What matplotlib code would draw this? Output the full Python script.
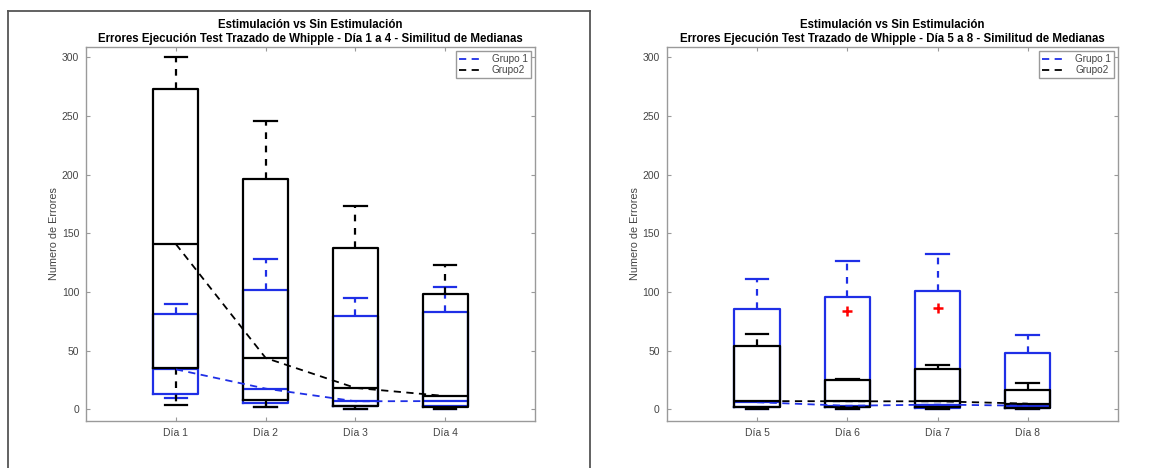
import matplotlib.pyplot as plt
from matplotlib.lines import Line2D

plt.rcParams['font.family'] = ['Liberation Sans', 'DejaVu Sans']

# Dia 1-4
days_left = ['Día 1', 'Día 2', 'Día 3', 'Día 4']
g1_left_q1 = [12.8, 5.4, 2.5, 2.5]
g1_left_med = [34, 17.6, 6.8, 7]
g1_left_q3 = [81, 101.4, 79.3, 82.7]
g1_left_lo = [10, 2, 0.5, 0.5]
g1_left_hi = [90, 128, 95, 104]

g2_left_q1 = [35, 7.7, 2.8, 2.3]
g2_left_med = [140.7, 43.7, 18.2, 11.3]
g2_left_q3 = [272.5, 196.6, 137.8, 97.8]
g2_left_lo = [4, 2, 0, 0.5]
g2_left_hi = [300, 245.5, 173, 122.8]
g2_left_out = [[], [], [], []]

# Dia 5-8
days_right = ['Día 5', 'Día 6', 'Día 7', 'Día 8']
g1_right_q1 = [2, 2, 1.5, 1.5]
g1_right_med = [6, 3, 4, 3]
g1_right_q3 = [85.8, 95.7, 100.8, 48.3]
g1_right_lo = [0.5, 0, 0.5, 0.5]
g1_right_hi = [110.8, 126, 132.7, 63]

g2_right_q1 = [2, 2, 2, 1.5]
g2_right_med = [7, 6.8, 6.8, 4.8]
g2_right_q3 = [53.7, 24.7, 34.7, 16.2]
g2_right_lo = [0.5, 0.5, 0.5, 0.5]
g2_right_hi = [64.5, 26, 38, 22.8]
g2_right_out = [[], [84], [86], []]

BLUE = '#1f2fe6'
AXGRAY = '#9a9a9a'
TXT = '#454545'


def stats(q1, med, q3, lo, hi, out=None):
    res = []
    for i in range(len(q1)):
        res.append({'q1': q1[i], 'med': med[i], 'q3': q3[i],
                    'whislo': lo[i], 'whishi': hi[i],
                    'fliers': out[i] if out else []})
    return res


def draw_group(ax, st, color, z):
    pos = list(range(1, len(st) + 1))
    ax.bxp(st, positions=pos, widths=0.5, showfliers=True,
           boxprops=dict(color=color, linewidth=1.6),
           whiskerprops=dict(color=color, linewidth=1.6, linestyle=(0, (3, 3))),
           capprops=dict(color=color, linewidth=1.6),
           medianprops=dict(color=color, linewidth=1.6),
           flierprops=dict(marker='+', markeredgecolor='red', markersize=7,
                           markeredgewidth=1.8, linestyle='none'),
           zorder=z, manage_ticks=False)


def panel(ax, days, g1, g2, title):
    pos = list(range(1, len(days) + 1))
    draw_group(ax, g1, BLUE, 2)
    draw_group(ax, g2, 'black', 3)
    ax.plot(pos, [s['med'] for s in g1], linestyle=(0, (4, 3)), color=BLUE,
            linewidth=1.3, zorder=4, label='Grupo 1')
    ax.plot(pos, [s['med'] for s in g2], linestyle=(0, (4, 3)), color='black',
            linewidth=1.3, zorder=4, label='Grupo2')
    ax.set_xlim(0, 5)
    ax.set_ylim(-10, 308.6)
    ax.set_xticks(pos)
    ax.set_xticklabels(days)
    ax.set_yticks(range(0, 301, 50))
    ax.tick_params(direction='in', top=True, right=True, length=3, width=0.8,
                   color=AXGRAY, labelcolor=TXT, labelsize=7.5, pad=5)
    for sp in ax.spines.values():
        sp.set_color(AXGRAY)
        sp.set_linewidth(1.0)
    ax.set_ylabel('Numero de Errores', fontsize=7.8, color=TXT, labelpad=2)
    ax.set_title(title, fontsize=8.3, fontweight='bold', pad=4, linespacing=1.2)
    ax.legend(loc='upper right', fontsize=7.2, handlelength=2.4,
              fancybox=False, edgecolor=AXGRAY, framealpha=1,
              borderaxespad=0.4, labelcolor=TXT, borderpad=0.3,
              labelspacing=0.1, handletextpad=0.9)


fig = plt.figure(figsize=(11.64, 4.68), dpi=100)
ax1 = fig.add_axes([0.0740, 0.1004, 0.3856, 0.799])
ax2 = fig.add_axes([0.5728, 0.1004, 0.3877, 0.799])

panel(ax1, days_left,
      stats(g1_left_q1, g1_left_med, g1_left_q3, g1_left_lo, g1_left_hi),
      stats(g2_left_q1, g2_left_med, g2_left_q3, g2_left_lo, g2_left_hi, g2_left_out),
      'Estimulación vs Sin Estimulación\nErrores Ejecución Test Trazado de Whipple - Día 1 a 4 - Similitud de Medianas')
panel(ax2, days_right,
      stats(g1_right_q1, g1_right_med, g1_right_q3, g1_right_lo, g1_right_hi),
      stats(g2_right_q1, g2_right_med, g2_right_q3, g2_right_lo, g2_right_hi, g2_right_out),
      'Estimulación vs Sin Estimulación\nErrores Ejecución Test Trazado de Whipple - Día 5 a 8 - Similitud de Medianas')

# frame lines around the left panel
W, H = 1164, 468
fig.add_artist(Line2D([8 / W, 8 / W], [0, 1 - 11 / H], color='#555555', linewidth=1.3))
fig.add_artist(Line2D([8 / W, 590 / W], [1 - 11 / H, 1 - 11 / H], color='#555555', linewidth=1.3))
fig.add_artist(Line2D([590 / W, 590 / W], [0, 1 - 11 / H], color='#555555', linewidth=1.3))

fig.savefig('out.png', dpi=100)
